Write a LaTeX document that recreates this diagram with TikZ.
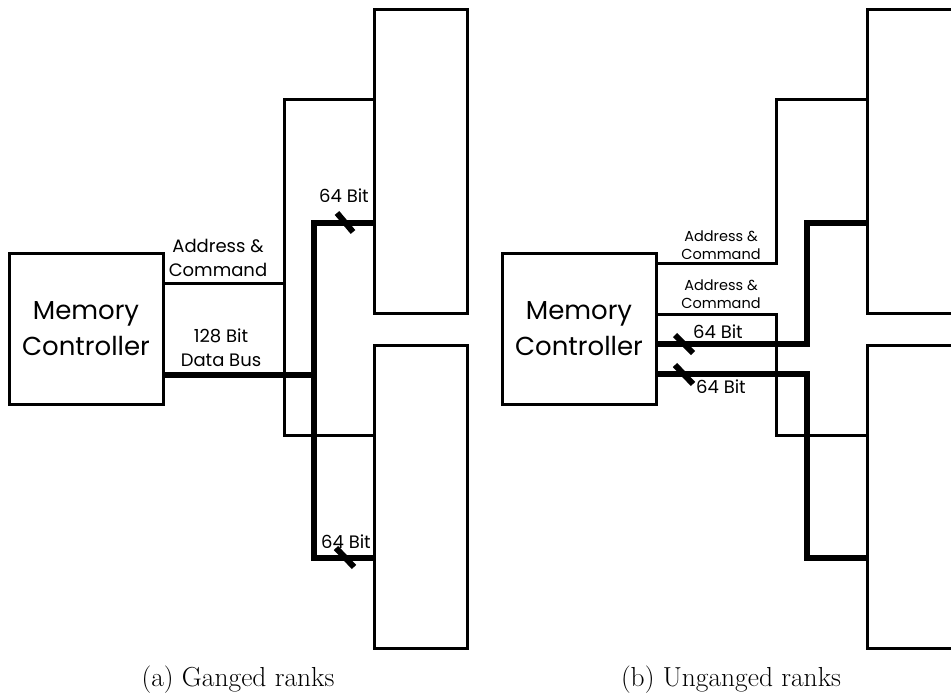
\documentclass[tikz,border=0pt]{standalone}
\usepackage{fontspec}
\newfontfamily\gothic{Poppins}
\begin{document}
\begin{tikzpicture}[x=1pt,y=-1pt,
  ctrl/.style={draw, line width=3pt, inner sep=0pt, outer sep=0pt,
    minimum width=154pt, minimum height=151pt, align=center,
    font=\gothic\fontsize{26}{36}\selectfont},
  rank/.style={draw, line width=3pt, inner sep=0pt, outer sep=0pt,
    minimum width=93pt, minimum height=303pt},
  sig/.style={line width=3pt},
  bus/.style={line width=6pt},
  tick/.style={line width=6pt},
  lbl/.style={font=\gothic\fontsize{18}{24}\selectfont, align=center, inner sep=0pt},
  slbl/.style={font=\gothic\fontsize{14.5}{18}\selectfont, align=center, inner sep=0pt},
  capt/.style={font=\fontsize{27.5}{32}\selectfont, inner sep=0pt}]
\useasboundingbox (0,0) rectangle (951,698);
\clip (0,0) rectangle (951,698);

% ---------- (a) ganged ranks ----------
\node[ctrl] (mcA) at (86,328.5) {Memory\\Controller};
\node[rank] (rA1) at (420.5,161.5) {};
\node[rank] (rA2) at (420.5,496.5) {};

\coordinate (acA)    at (284,283);
\coordinate (acTopA) at (284,100);
\coordinate (acBotA) at (284,435);
\draw[sig] (mcA.east |- acA) -- (acA);
\draw[sig] (rA1.west |- acTopA) -- (acTopA) -- (acBotA) -- (rA2.west |- acBotA);

\coordinate (busA)    at (314,375);
\coordinate (busTopA) at (314,223);
\coordinate (busBotA) at (314,558);
\draw[bus] (mcA.east |- busA) -- (busA);
\draw[bus] (rA1.west |- busTopA) -- (busTopA) -- (busBotA) -- (rA2.west |- busBotA);

\draw[tick] (337,213) -- (353,232);
\draw[tick] (336,548) -- (354,567);

\node[lbl] (acLblA)  at (218,258) {Address \&\\Command};
\node[lbl] (busLblA) at (221,348) {128 Bit\\Data Bus};
\node[lbl] (w1A) at (344,196) {64 Bit};
\node[lbl] (w2A) at (346,542) {64 Bit};

\node[capt] (capA) at (238,680) {(a)\ Ganged ranks};

% ---------- (b) unganged ranks ----------
\node[ctrl] (mcB) at (579,328.5) {Memory\\Controller};
\node[rank] (rB1) at (913.5,161.5) {};
\node[rank] (rB2) at (913.5,496.5) {};

\coordinate (ac1B)    at (776,263);
\coordinate (ac1TopB) at (776,100);
\coordinate (ac2B)    at (776,314);
\coordinate (ac2BotB) at (776,435);
\draw[sig] (mcB.east |- ac1B) -- (ac1B) -- (ac1TopB) -- (rB1.west |- ac1TopB);
\draw[sig] (mcB.east |- ac2B) -- (ac2B) -- (ac2BotB) -- (rB2.west |- ac2BotB);

\coordinate (bus1B)    at (807,344);
\coordinate (bus1TopB) at (807,223);
\coordinate (bus2B)    at (807,374);
\coordinate (bus2BotB) at (807,558);
\draw[bus] (mcB.east |- bus1B) -- (bus1B) -- (bus1TopB) -- (rB1.west |- bus1TopB);
\draw[bus] (mcB.east |- bus2B) -- (bus2B) -- (bus2BotB) -- (rB2.west |- bus2BotB);

\draw[tick] (675,335) -- (693,353);
\draw[tick] (675,365) -- (693,384);

\node[slbl] (ac1LblB) at (721,245) {Address \&\\Command};
\node[slbl] (ac2LblB) at (721,294) {Address \&\\Command};
\node[lbl] (w1B) at (718,332) {64 Bit};
\node[lbl] (w2B) at (721,387) {64 Bit};

\node[capt] (capB) at (731,680) {(b)\ Unganged ranks};
\end{tikzpicture}
\end{document}
